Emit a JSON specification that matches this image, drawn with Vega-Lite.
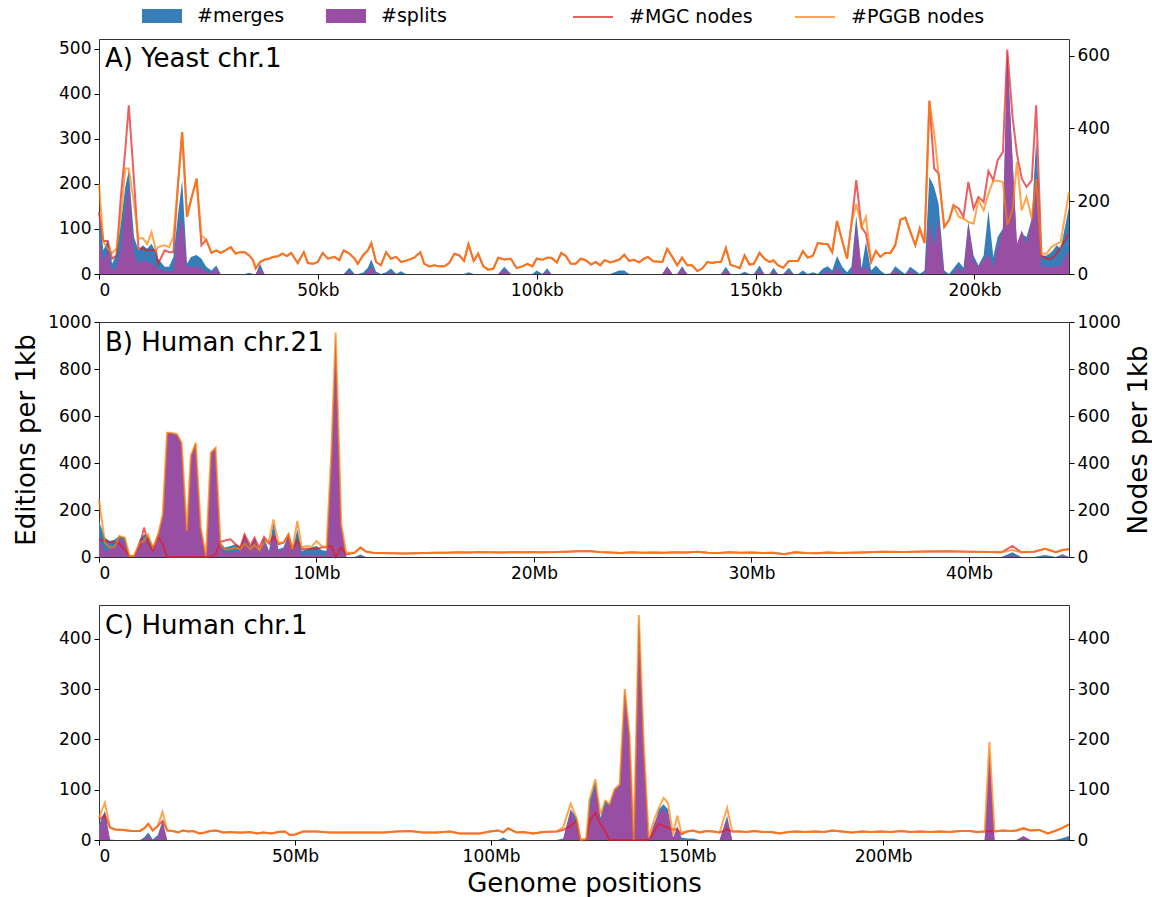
{
"$schema": "https://vega.github.io/schema/vega-lite/v6.json",
"background": "white",
"padding": {"left": 13, "top": 5, "right": 2, "bottom": 0},
"config": {
  "font": "DejaVu Sans",
  "view": {"stroke": "#333", "strokeWidth": 1},
  "axis": {"labelFont": "DejaVu Sans", "labelFontSize": 17, "labelColor": "black", "tickColor": "black", "tickSize": 5, "domain": false, "grid": false, "titleFont": "DejaVu Sans", "titleFontSize": 26, "titleFontWeight": "normal", "titleColor": "black", "labelPadding": 3, "format": "d"},
  "legend": {"labelFont": "DejaVu Sans", "labelFontSize": 19, "labelColor": "black", "padding": 0},
  "title": {"font": "DejaVu Sans", "fontSize": 26, "fontWeight": "normal", "color": "black", "anchor": "start", "frame": "group"}
},
"bounds": "flush",
"spacing": 48,
"resolve": {"scale": {"x": "independent", "y": "independent", "fill": "independent", "stroke": "independent"}, "legend": {"fill": "independent", "stroke": "independent"}},
"datasets": {
"A": [
{"pos":0,"merges":141,"splits":82,"mgc":170,"pggb":248},
{"pos":1,"merges":53,"splits":30,"mgc":91,"pggb":88},
{"pos":2,"merges":75,"splits":53,"mgc":91,"pggb":70},
{"pos":3,"merges":23,"splits":8,"mgc":42,"pggb":58},
{"pos":4,"merges":45,"splits":16,"mgc":51,"pggb":70},
{"pos":5,"merges":112,"splits":53,"mgc":212,"pggb":157},
{"pos":6,"merges":193,"splits":141,"mgc":340,"pggb":290},
{"pos":6.8,"merges":230,"splits":200,"mgc":464,"pggb":290},
{"pos":8,"merges":82,"splits":45,"mgc":258,"pggb":193},
{"pos":9,"merges":53,"splits":23,"mgc":70,"pggb":97},
{"pos":10,"merges":64,"splits":30,"mgc":70,"pggb":99},
{"pos":11,"merges":56,"splits":27,"mgc":65,"pggb":82},
{"pos":12,"merges":67,"splits":23,"mgc":65,"pggb":115},
{"pos":13,"merges":49,"splits":16,"mgc":65,"pggb":65},
{"pos":13.5,"merges":34,"splits":12,"mgc":28,"pggb":74},
{"pos":15,"merges":16,"splits":8,"mgc":65,"pggb":79},
{"pos":16,"merges":16,"splits":4,"mgc":60,"pggb":74},
{"pos":17,"merges":38,"splits":8,"mgc":60,"pggb":102},
{"pos":18,"merges":127,"splits":82,"mgc":239,"pggb":239},
{"pos":19,"merges":208,"splits":127,"mgc":390,"pggb":390},
{"pos":20.1,"merges":23,"splits":16,"mgc":157,"pggb":157},
{"pos":21,"merges":38,"splits":16,"mgc":203,"pggb":203},
{"pos":22.3,"merges":42,"splits":16,"mgc":262,"pggb":262},
{"pos":23.4,"merges":34,"splits":12,"mgc":79,"pggb":106},
{"pos":24.5,"merges":16,"splits":4,"mgc":94,"pggb":94},
{"pos":25.7,"merges":8,"splits":2,"mgc":58,"pggb":58},
{"pos":26.8,"merges":19,"splits":12,"mgc":65,"pggb":65},
{"pos":27.8,"merges":0,"splits":0,"mgc":58,"pggb":58},
{"pos":28.9,"merges":0,"splits":0,"mgc":65,"pggb":65},
{"pos":30.1,"merges":0,"splits":0,"mgc":74,"pggb":74},
{"pos":31.2,"merges":0,"splits":0,"mgc":56,"pggb":56},
{"pos":32.2,"merges":0,"splits":0,"mgc":60,"pggb":60},
{"pos":33.3,"merges":0,"splits":0,"mgc":60,"pggb":60},
{"pos":34.3,"merges":3,"splits":0,"mgc":51,"pggb":51},
{"pos":35.2,"merges":0,"splits":0,"mgc":38,"pggb":38},
{"pos":35.8,"merges":0,"splits":0,"mgc":15,"pggb":15},
{"pos":36.8,"merges":23,"splits":12,"mgc":33,"pggb":33},
{"pos":37.8,"merges":0,"splits":0,"mgc":39,"pggb":39},
{"pos":38.8,"merges":0,"splits":0,"mgc":42,"pggb":42},
{"pos":39.8,"merges":0,"splits":0,"mgc":47,"pggb":47},
{"pos":40.9,"merges":0,"splits":0,"mgc":49,"pggb":49},
{"pos":41.9,"merges":0,"splits":0,"mgc":56,"pggb":56},
{"pos":42.9,"merges":0,"splits":0,"mgc":49,"pggb":49},
{"pos":43.9,"merges":0,"splits":0,"mgc":58,"pggb":58},
{"pos":45.4,"merges":0,"splits":0,"mgc":30,"pggb":30},
{"pos":46.8,"merges":0,"splits":0,"mgc":60,"pggb":60},
{"pos":47.7,"merges":0,"splits":0,"mgc":30,"pggb":30},
{"pos":48.9,"merges":0,"splits":0,"mgc":28,"pggb":28},
{"pos":50,"merges":0,"splits":0,"mgc":33,"pggb":33},
{"pos":51.1,"merges":0,"splits":0,"mgc":58,"pggb":58},
{"pos":52.3,"merges":0,"splits":0,"mgc":42,"pggb":42},
{"pos":53.8,"merges":0,"splits":0,"mgc":47,"pggb":47},
{"pos":54.9,"merges":0,"splits":0,"mgc":38,"pggb":38},
{"pos":55.9,"merges":0,"splits":0,"mgc":65,"pggb":65},
{"pos":57.2,"merges":14,"splits":4,"mgc":56,"pggb":56},
{"pos":58.4,"merges":0,"splits":0,"mgc":42,"pggb":42},
{"pos":59.1,"merges":0,"splits":0,"mgc":28,"pggb":28},
{"pos":60.3,"merges":3,"splits":0,"mgc":51,"pggb":51},
{"pos":61.4,"merges":14,"splits":5,"mgc":65,"pggb":65},
{"pos":62.2,"merges":32,"splits":16,"mgc":85,"pggb":85},
{"pos":63.3,"merges":5,"splits":0,"mgc":33,"pggb":33},
{"pos":64.4,"merges":0,"splits":0,"mgc":24,"pggb":24},
{"pos":65.6,"merges":4,"splits":0,"mgc":60,"pggb":60},
{"pos":66.7,"merges":12,"splits":4,"mgc":42,"pggb":42},
{"pos":67.9,"merges":0,"splits":0,"mgc":47,"pggb":47},
{"pos":69,"merges":6,"splits":0,"mgc":33,"pggb":33},
{"pos":70.1,"merges":0,"splits":0,"mgc":36,"pggb":36},
{"pos":72,"merges":0,"splits":0,"mgc":45,"pggb":45},
{"pos":73.4,"merges":0,"splits":0,"mgc":60,"pggb":60},
{"pos":74.3,"merges":0,"splits":0,"mgc":28,"pggb":28},
{"pos":75.5,"merges":0,"splits":0,"mgc":21,"pggb":21},
{"pos":76.6,"merges":0,"splits":0,"mgc":24,"pggb":24},
{"pos":77.7,"merges":0,"splits":0,"mgc":21,"pggb":21},
{"pos":78.9,"merges":0,"splits":0,"mgc":21,"pggb":21},
{"pos":80,"merges":0,"splits":0,"mgc":30,"pggb":30},
{"pos":81.2,"merges":0,"splits":0,"mgc":56,"pggb":56},
{"pos":82.3,"merges":0,"splits":0,"mgc":51,"pggb":51},
{"pos":83.4,"merges":0,"splits":0,"mgc":36,"pggb":36},
{"pos":84.4,"merges":4,"splits":0,"mgc":82,"pggb":82},
{"pos":85.6,"merges":0,"splits":0,"mgc":36,"pggb":36},
{"pos":86.6,"merges":0,"splits":0,"mgc":56,"pggb":56},
{"pos":87.8,"merges":0,"splits":0,"mgc":21,"pggb":21},
{"pos":88.9,"merges":0,"splits":0,"mgc":12,"pggb":12},
{"pos":90.1,"merges":0,"splits":0,"mgc":15,"pggb":15},
{"pos":91.2,"merges":0,"splits":0,"mgc":45,"pggb":45},
{"pos":92.6,"merges":16,"splits":8,"mgc":40,"pggb":40},
{"pos":94.1,"merges":0,"splits":0,"mgc":42,"pggb":42},
{"pos":95.4,"merges":0,"splits":0,"mgc":16,"pggb":16},
{"pos":96.7,"merges":0,"splits":0,"mgc":21,"pggb":21},
{"pos":97.9,"merges":0,"splits":0,"mgc":28,"pggb":28},
{"pos":99,"merges":0,"splits":0,"mgc":21,"pggb":21},
{"pos":100,"merges":8,"splits":0,"mgc":42,"pggb":42},
{"pos":101.3,"merges":0,"splits":0,"mgc":39,"pggb":39},
{"pos":102.4,"merges":13,"splits":6,"mgc":45,"pggb":45},
{"pos":103.3,"merges":0,"splits":0,"mgc":45,"pggb":45},
{"pos":104.6,"merges":0,"splits":0,"mgc":32,"pggb":32},
{"pos":105.6,"merges":0,"splits":0,"mgc":58,"pggb":58},
{"pos":106.6,"merges":0,"splits":0,"mgc":50,"pggb":50},
{"pos":107.8,"merges":0,"splits":0,"mgc":28,"pggb":28},
{"pos":108.9,"merges":0,"splits":0,"mgc":28,"pggb":28},
{"pos":110.1,"merges":0,"splits":0,"mgc":42,"pggb":42},
{"pos":111.2,"merges":0,"splits":0,"mgc":38,"pggb":38},
{"pos":112.4,"merges":0,"splits":0,"mgc":26,"pggb":26},
{"pos":113.5,"merges":0,"splits":0,"mgc":33,"pggb":33},
{"pos":114.5,"merges":0,"splits":0,"mgc":24,"pggb":24},
{"pos":115.5,"merges":0,"splits":0,"mgc":38,"pggb":38},
{"pos":116.8,"merges":0,"splits":0,"mgc":32,"pggb":32},
{"pos":118.8,"merges":8,"splits":0,"mgc":39,"pggb":39},
{"pos":120,"merges":8,"splits":0,"mgc":53,"pggb":53},
{"pos":121.1,"merges":0,"splits":0,"mgc":36,"pggb":36},
{"pos":122.2,"merges":0,"splits":0,"mgc":39,"pggb":39},
{"pos":123.4,"merges":0,"splits":0,"mgc":32,"pggb":32},
{"pos":124.5,"merges":0,"splits":0,"mgc":42,"pggb":42},
{"pos":125.4,"merges":0,"splits":0,"mgc":47,"pggb":47},
{"pos":126.6,"merges":0,"splits":0,"mgc":35,"pggb":35},
{"pos":128.7,"merges":0,"splits":0,"mgc":33,"pggb":33},
{"pos":129.8,"merges":17,"splits":16,"mgc":69,"pggb":69},
{"pos":131,"merges":0,"splits":0,"mgc":47,"pggb":47},
{"pos":132.1,"merges":0,"splits":0,"mgc":24,"pggb":24},
{"pos":133.2,"merges":17,"splits":12,"mgc":45,"pggb":45},
{"pos":134.4,"merges":0,"splits":0,"mgc":24,"pggb":24},
{"pos":135.5,"merges":0,"splits":0,"mgc":24,"pggb":24},
{"pos":136.7,"merges":0,"splits":0,"mgc":8,"pggb":8},
{"pos":137.8,"merges":0,"splits":0,"mgc":15,"pggb":15},
{"pos":139,"merges":0,"splits":0,"mgc":33,"pggb":33},
{"pos":140.1,"merges":0,"splits":0,"mgc":30,"pggb":30},
{"pos":141.2,"merges":0,"splits":0,"mgc":33,"pggb":33},
{"pos":142.1,"merges":0,"splits":0,"mgc":33,"pggb":33},
{"pos":143.2,"merges":16,"splits":8,"mgc":71,"pggb":71},
{"pos":144.3,"merges":0,"splits":0,"mgc":25,"pggb":25},
{"pos":145.4,"merges":0,"splits":0,"mgc":21,"pggb":21},
{"pos":146.4,"merges":0,"splits":0,"mgc":16,"pggb":16},
{"pos":147.5,"merges":5,"splits":0,"mgc":51,"pggb":51},
{"pos":148.6,"merges":0,"splits":0,"mgc":26,"pggb":26},
{"pos":149.6,"merges":0,"splits":0,"mgc":28,"pggb":28},
{"pos":150.9,"merges":19,"splits":8,"mgc":58,"pggb":58},
{"pos":152,"merges":0,"splits":0,"mgc":42,"pggb":42},
{"pos":153.2,"merges":0,"splits":0,"mgc":33,"pggb":33},
{"pos":154.1,"merges":14,"splits":5,"mgc":36,"pggb":39},
{"pos":155.1,"merges":0,"splits":0,"mgc":24,"pggb":24},
{"pos":156.3,"merges":0,"splits":0,"mgc":17,"pggb":17},
{"pos":157.6,"merges":14,"splits":5,"mgc":36,"pggb":36},
{"pos":158.7,"merges":0,"splits":0,"mgc":36,"pggb":36},
{"pos":159.7,"merges":0,"splits":0,"mgc":36,"pggb":36},
{"pos":160.8,"merges":8,"splits":0,"mgc":63,"pggb":63},
{"pos":161.9,"merges":0,"splits":0,"mgc":45,"pggb":45},
{"pos":163.1,"merges":4,"splits":0,"mgc":50,"pggb":50},
{"pos":164.2,"merges":0,"splits":0,"mgc":85,"pggb":85},
{"pos":165.4,"merges":12,"splits":0,"mgc":83,"pggb":83},
{"pos":166.5,"merges":17,"splits":8,"mgc":82,"pggb":82},
{"pos":167.5,"merges":8,"splits":0,"mgc":60,"pggb":60},
{"pos":168.6,"merges":40,"splits":16,"mgc":146,"pggb":146},
{"pos":169.8,"merges":16,"splits":0,"mgc":91,"pggb":91},
{"pos":170.9,"merges":4,"splits":0,"mgc":42,"pggb":42},
{"pos":171.9,"merges":16,"splits":0,"mgc":138,"pggb":138},
{"pos":173,"merges":130,"splits":112,"mgc":258,"pggb":193},
{"pos":174.2,"merges":12,"splits":8,"mgc":129,"pggb":129},
{"pos":175.2,"merges":71,"splits":16,"mgc":111,"pggb":157},
{"pos":176.4,"merges":8,"splits":0,"mgc":33,"pggb":33},
{"pos":177.5,"merges":19,"splits":0,"mgc":63,"pggb":63},
{"pos":178.5,"merges":8,"splits":0,"mgc":47,"pggb":47},
{"pos":179.6,"merges":0,"splits":0,"mgc":58,"pggb":58},
{"pos":180.8,"merges":1,"splits":0,"mgc":58,"pggb":58},
{"pos":181.9,"merges":17,"splits":8,"mgc":79,"pggb":79},
{"pos":183.1,"merges":8,"splits":0,"mgc":149,"pggb":149},
{"pos":184.2,"merges":0,"splits":0,"mgc":155,"pggb":155},
{"pos":185.3,"merges":16,"splits":8,"mgc":118,"pggb":118},
{"pos":186.5,"merges":8,"splits":0,"mgc":79,"pggb":79},
{"pos":187.5,"merges":0,"splits":0,"mgc":125,"pggb":125},
{"pos":188.6,"merges":8,"splits":0,"mgc":85,"pggb":85},
{"pos":189.7,"merges":216,"splits":116,"mgc":476,"pggb":476},
{"pos":190.8,"merges":193,"splits":60,"mgc":290,"pggb":386},
{"pos":191.8,"merges":156,"splits":127,"mgc":276,"pggb":276},
{"pos":193.1,"merges":8,"splits":0,"mgc":129,"pggb":129},
{"pos":194.2,"merges":0,"splits":0,"mgc":148,"pggb":148},
{"pos":195.2,"merges":12,"splits":0,"mgc":189,"pggb":189},
{"pos":196.4,"merges":27,"splits":16,"mgc":180,"pggb":157},
{"pos":197.5,"merges":14,"splits":0,"mgc":157,"pggb":152},
{"pos":198.6,"merges":116,"splits":112,"mgc":253,"pggb":143},
{"pos":199.8,"merges":41,"splits":30,"mgc":180,"pggb":138},
{"pos":200.9,"merges":19,"splits":16,"mgc":212,"pggb":204},
{"pos":202.1,"merges":41,"splits":30,"mgc":198,"pggb":175},
{"pos":203.2,"merges":141,"splits":45,"mgc":283,"pggb":221},
{"pos":204.3,"merges":38,"splits":16,"mgc":258,"pggb":256},
{"pos":205.3,"merges":82,"splits":60,"mgc":313,"pggb":256},
{"pos":206.5,"merges":101,"splits":101,"mgc":335,"pggb":253},
{"pos":207.5,"merges":495,"splits":485,"mgc":617,"pggb":134},
{"pos":208.7,"merges":260,"splits":250,"mgc":432,"pggb":175},
{"pos":209.7,"merges":64,"splits":67,"mgc":331,"pggb":308},
{"pos":210.8,"merges":90,"splits":97,"mgc":262,"pggb":175},
{"pos":211.9,"merges":82,"splits":67,"mgc":239,"pggb":212},
{"pos":213.1,"merges":123,"splits":123,"mgc":258,"pggb":152},
{"pos":214.1,"merges":300,"splits":215,"mgc":464,"pggb":262},
{"pos":215.3,"merges":40,"splits":15,"mgc":51,"pggb":56},
{"pos":216.5,"merges":41,"splits":16,"mgc":42,"pggb":56},
{"pos":217.6,"merges":49,"splits":16,"mgc":42,"pggb":74},
{"pos":218.8,"merges":64,"splits":16,"mgc":56,"pggb":83},
{"pos":219.7,"merges":56,"splits":19,"mgc":74,"pggb":88},
{"pos":221.6,"merges":150,"splits":53,"mgc":110,"pggb":225}
],
"B": [
{"pos":0,"merges":153,"splits":82,"mgc":75,"pggb":245},
{"pos":0.27,"merges":82,"splits":26,"mgc":68,"pggb":61},
{"pos":0.5,"merges":68,"splits":33,"mgc":64,"pggb":40},
{"pos":0.73,"merges":75,"splits":40,"mgc":61,"pggb":43},
{"pos":0.93,"merges":89,"splits":82,"mgc":57,"pggb":89},
{"pos":1.19,"merges":82,"splits":61,"mgc":30,"pggb":82},
{"pos":1.41,"merges":0,"splits":0,"mgc":4,"pggb":4},
{"pos":1.61,"merges":0,"splits":0,"mgc":4,"pggb":4},
{"pos":1.87,"merges":75,"splits":61,"mgc":47,"pggb":61},
{"pos":2.07,"merges":96,"splits":75,"mgc":125,"pggb":68},
{"pos":2.25,"merges":89,"splits":70,"mgc":61,"pggb":96},
{"pos":2.48,"merges":47,"splits":26,"mgc":26,"pggb":40},
{"pos":2.7,"merges":60,"splits":89,"mgc":89,"pggb":89},
{"pos":2.93,"merges":60,"splits":181,"mgc":54,"pggb":181},
{"pos":3.13,"merges":20,"splits":529,"mgc":0,"pggb":529},
{"pos":3.31,"merges":20,"splits":529,"mgc":0,"pggb":529},
{"pos":3.59,"merges":20,"splits":522,"mgc":0,"pggb":522},
{"pos":3.8,"merges":20,"splits":486,"mgc":0,"pggb":486},
{"pos":4.04,"merges":20,"splits":111,"mgc":0,"pggb":111},
{"pos":4.22,"merges":20,"splits":430,"mgc":0,"pggb":430},
{"pos":4.45,"merges":20,"splits":486,"mgc":0,"pggb":486},
{"pos":4.68,"merges":20,"splits":125,"mgc":0,"pggb":125},
{"pos":4.92,"merges":0,"splits":4,"mgc":0,"pggb":4},
{"pos":5.14,"merges":20,"splits":444,"mgc":0,"pggb":444},
{"pos":5.36,"merges":20,"splits":465,"mgc":11,"pggb":465},
{"pos":5.59,"merges":60,"splits":54,"mgc":65,"pggb":54},
{"pos":5.79,"merges":40,"splits":18,"mgc":70,"pggb":33},
{"pos":6.05,"merges":47,"splits":18,"mgc":75,"pggb":33},
{"pos":6.28,"merges":54,"splits":26,"mgc":54,"pggb":40},
{"pos":6.5,"merges":43,"splits":26,"mgc":40,"pggb":33},
{"pos":6.69,"merges":96,"splits":89,"mgc":96,"pggb":57},
{"pos":6.96,"merges":40,"splits":26,"mgc":47,"pggb":33},
{"pos":7.15,"merges":82,"splits":75,"mgc":82,"pggb":51},
{"pos":7.37,"merges":26,"splits":18,"mgc":40,"pggb":28},
{"pos":7.59,"merges":82,"splits":68,"mgc":85,"pggb":61},
{"pos":7.82,"merges":26,"splits":18,"mgc":57,"pggb":68},
{"pos":8.02,"merges":146,"splits":96,"mgc":89,"pggb":160},
{"pos":8.25,"merges":33,"splits":26,"mgc":54,"pggb":61},
{"pos":8.48,"merges":40,"splits":33,"mgc":61,"pggb":61},
{"pos":8.71,"merges":96,"splits":89,"mgc":96,"pggb":96},
{"pos":8.89,"merges":26,"splits":15,"mgc":33,"pggb":33},
{"pos":9.12,"merges":118,"splits":68,"mgc":71,"pggb":153},
{"pos":9.32,"merges":26,"splits":5,"mgc":33,"pggb":40},
{"pos":9.54,"merges":33,"splits":8,"mgc":35,"pggb":47},
{"pos":9.77,"merges":40,"splits":10,"mgc":35,"pggb":43},
{"pos":10,"merges":47,"splits":10,"mgc":35,"pggb":68},
{"pos":10.23,"merges":30,"splits":8,"mgc":40,"pggb":47},
{"pos":10.46,"merges":26,"splits":8,"mgc":43,"pggb":40},
{"pos":10.68,"merges":410,"splits":437,"mgc":47,"pggb":437},
{"pos":10.88,"merges":20,"splits":948,"mgc":0,"pggb":955},
{"pos":11.14,"merges":100,"splits":139,"mgc":40,"pggb":139},
{"pos":11.37,"merges":0,"splits":0,"mgc":11,"pggb":18},
{"pos":11.75,"merges":0,"splits":0,"mgc":18,"pggb":18},
{"pos":12.02,"merges":11,"splits":3,"mgc":40,"pggb":40},
{"pos":12.28,"merges":0,"splits":0,"mgc":23,"pggb":23},
{"pos":12.58,"merges":0,"splits":0,"mgc":18,"pggb":18},
{"pos":13,"merges":0,"splits":0,"mgc":17,"pggb":17},
{"pos":13.5,"merges":0,"splits":0,"mgc":16,"pggb":16},
{"pos":14,"merges":0,"splits":0,"mgc":15,"pggb":15},
{"pos":14.5,"merges":0,"splits":0,"mgc":16,"pggb":16},
{"pos":15,"merges":0,"splits":0,"mgc":17,"pggb":17},
{"pos":15.5,"merges":0,"splits":0,"mgc":18,"pggb":18},
{"pos":16,"merges":0,"splits":0,"mgc":18,"pggb":18},
{"pos":16.5,"merges":0,"splits":0,"mgc":20,"pggb":20},
{"pos":17,"merges":0,"splits":0,"mgc":19,"pggb":19},
{"pos":17.5,"merges":0,"splits":0,"mgc":21,"pggb":21},
{"pos":18,"merges":0,"splits":0,"mgc":20,"pggb":20},
{"pos":18.5,"merges":0,"splits":0,"mgc":19,"pggb":19},
{"pos":19,"merges":0,"splits":0,"mgc":21,"pggb":21},
{"pos":19.5,"merges":0,"splits":0,"mgc":20,"pggb":20},
{"pos":20,"merges":0,"splits":0,"mgc":21,"pggb":21},
{"pos":20.5,"merges":0,"splits":0,"mgc":20,"pggb":20},
{"pos":21,"merges":0,"splits":0,"mgc":21,"pggb":21},
{"pos":21.5,"merges":0,"splits":0,"mgc":22,"pggb":22},
{"pos":22,"merges":0,"splits":0,"mgc":24,"pggb":24},
{"pos":22.5,"merges":0,"splits":0,"mgc":25,"pggb":25},
{"pos":23,"merges":0,"splits":0,"mgc":21,"pggb":21},
{"pos":23.5,"merges":0,"splits":0,"mgc":19,"pggb":19},
{"pos":24,"merges":0,"splits":0,"mgc":17,"pggb":17},
{"pos":24.5,"merges":0,"splits":0,"mgc":20,"pggb":20},
{"pos":25,"merges":0,"splits":0,"mgc":18,"pggb":18},
{"pos":25.5,"merges":0,"splits":0,"mgc":19,"pggb":19},
{"pos":26,"merges":0,"splits":0,"mgc":18,"pggb":18},
{"pos":26.5,"merges":0,"splits":0,"mgc":20,"pggb":20},
{"pos":27,"merges":0,"splits":0,"mgc":19,"pggb":19},
{"pos":27.5,"merges":0,"splits":0,"mgc":22,"pggb":22},
{"pos":28,"merges":0,"splits":0,"mgc":18,"pggb":18},
{"pos":28.5,"merges":0,"splits":0,"mgc":17,"pggb":17},
{"pos":29,"merges":0,"splits":0,"mgc":20,"pggb":20},
{"pos":29.5,"merges":0,"splits":0,"mgc":18,"pggb":18},
{"pos":30,"merges":0,"splits":0,"mgc":19,"pggb":19},
{"pos":30.5,"merges":0,"splits":0,"mgc":17,"pggb":17},
{"pos":31,"merges":0,"splits":0,"mgc":18,"pggb":18},
{"pos":31.5,"merges":0,"splits":0,"mgc":12,"pggb":12},
{"pos":32,"merges":0,"splits":0,"mgc":20,"pggb":20},
{"pos":32.5,"merges":0,"splits":0,"mgc":17,"pggb":17},
{"pos":33,"merges":0,"splits":0,"mgc":16,"pggb":16},
{"pos":33.5,"merges":0,"splits":0,"mgc":19,"pggb":19},
{"pos":34,"merges":0,"splits":0,"mgc":17,"pggb":17},
{"pos":35,"merges":0,"splits":0,"mgc":19,"pggb":19},
{"pos":36,"merges":0,"splits":0,"mgc":22,"pggb":22},
{"pos":37,"merges":0,"splits":0,"mgc":21,"pggb":21},
{"pos":38,"merges":0,"splits":0,"mgc":23,"pggb":23},
{"pos":39,"merges":0,"splits":0,"mgc":24,"pggb":24},
{"pos":40,"merges":0,"splits":0,"mgc":22,"pggb":22},
{"pos":41,"merges":0,"splits":0,"mgc":21,"pggb":21},
{"pos":41.5,"merges":0,"splits":0,"mgc":20,"pggb":20},
{"pos":42,"merges":20,"splits":5,"mgc":47,"pggb":30},
{"pos":42.4,"merges":0,"splits":0,"mgc":20,"pggb":20},
{"pos":43,"merges":0,"splits":0,"mgc":22,"pggb":22},
{"pos":43.5,"merges":8,"splits":0,"mgc":35,"pggb":35},
{"pos":44,"merges":0,"splits":0,"mgc":20,"pggb":20},
{"pos":44.3,"merges":12,"splits":5,"mgc":30,"pggb":30},
{"pos":44.6,"merges":0,"splits":0,"mgc":33,"pggb":33}
],
"C": [
{"pos":0,"merges":30,"splits":25,"mgc":40,"pggb":44},
{"pos":1.5,"merges":58,"splits":50,"mgc":50,"pggb":74},
{"pos":2.8,"merges":1,"splits":0,"mgc":25,"pggb":25},
{"pos":4.1,"merges":0,"splits":0,"mgc":21,"pggb":21},
{"pos":6.2,"merges":0,"splits":0,"mgc":20,"pggb":20},
{"pos":8.3,"merges":0,"splits":0,"mgc":18,"pggb":18},
{"pos":10.5,"merges":0,"splits":0,"mgc":18,"pggb":18},
{"pos":11.5,"merges":5,"splits":2,"mgc":23,"pggb":23},
{"pos":12.6,"merges":15,"splits":8,"mgc":32,"pggb":32},
{"pos":13.7,"merges":1,"splits":0,"mgc":19,"pggb":19},
{"pos":15,"merges":10,"splits":5,"mgc":28,"pggb":28},
{"pos":16.2,"merges":38,"splits":34,"mgc":38,"pggb":56},
{"pos":17.4,"merges":0,"splits":0,"mgc":19,"pggb":19},
{"pos":18.9,"merges":0,"splits":0,"mgc":18,"pggb":18},
{"pos":20.2,"merges":0,"splits":0,"mgc":15,"pggb":15},
{"pos":21.5,"merges":0,"splits":0,"mgc":19,"pggb":19},
{"pos":22.8,"merges":0,"splits":0,"mgc":17,"pggb":17},
{"pos":24,"merges":0,"splits":0,"mgc":18,"pggb":18},
{"pos":25.7,"merges":0,"splits":0,"mgc":13,"pggb":13},
{"pos":27,"merges":0,"splits":0,"mgc":15,"pggb":15},
{"pos":28.3,"merges":0,"splits":0,"mgc":18,"pggb":18},
{"pos":30,"merges":0,"splits":0,"mgc":19,"pggb":19},
{"pos":31.7,"merges":0,"splits":0,"mgc":15,"pggb":15},
{"pos":33.4,"merges":0,"splits":0,"mgc":16,"pggb":16},
{"pos":35.1,"merges":0,"splits":0,"mgc":15,"pggb":15},
{"pos":36.8,"merges":0,"splits":0,"mgc":15,"pggb":15},
{"pos":38.5,"merges":0,"splits":0,"mgc":16,"pggb":16},
{"pos":40.2,"merges":0,"splits":0,"mgc":13,"pggb":13},
{"pos":41.9,"merges":0,"splits":0,"mgc":15,"pggb":15},
{"pos":44,"merges":0,"splits":0,"mgc":13,"pggb":13},
{"pos":45.7,"merges":0,"splits":0,"mgc":16,"pggb":16},
{"pos":47.4,"merges":0,"splits":0,"mgc":17,"pggb":17},
{"pos":48.7,"merges":0,"splits":0,"mgc":10,"pggb":10},
{"pos":50,"merges":0,"splits":0,"mgc":11,"pggb":11},
{"pos":52.1,"merges":0,"splits":0,"mgc":17,"pggb":17},
{"pos":55.5,"merges":0,"splits":0,"mgc":17,"pggb":17},
{"pos":58.9,"merges":0,"splits":0,"mgc":15,"pggb":15},
{"pos":62.3,"merges":0,"splits":0,"mgc":15,"pggb":15},
{"pos":65.7,"merges":0,"splits":0,"mgc":15,"pggb":15},
{"pos":69.1,"merges":0,"splits":0,"mgc":15,"pggb":15},
{"pos":72.5,"merges":0,"splits":0,"mgc":15,"pggb":15},
{"pos":75.9,"merges":0,"splits":0,"mgc":17,"pggb":17},
{"pos":79.3,"merges":0,"splits":0,"mgc":18,"pggb":18},
{"pos":82.7,"merges":0,"splits":0,"mgc":15,"pggb":15},
{"pos":86.1,"merges":0,"splits":0,"mgc":15,"pggb":15},
{"pos":89.5,"merges":0,"splits":0,"mgc":17,"pggb":17},
{"pos":92,"merges":0,"splits":0,"mgc":13,"pggb":13},
{"pos":94.6,"merges":0,"splits":0,"mgc":13,"pggb":13},
{"pos":97.1,"merges":0,"splits":0,"mgc":13,"pggb":13},
{"pos":99.7,"merges":0,"splits":0,"mgc":17,"pggb":17},
{"pos":101.8,"merges":0,"splits":0,"mgc":19,"pggb":19},
{"pos":103.1,"merges":5,"splits":0,"mgc":15,"pggb":15},
{"pos":104.3,"merges":0,"splits":0,"mgc":23,"pggb":23},
{"pos":106.5,"merges":0,"splits":0,"mgc":15,"pggb":15},
{"pos":108.2,"merges":0,"splits":0,"mgc":16,"pggb":16},
{"pos":110.7,"merges":0,"splits":0,"mgc":13,"pggb":13},
{"pos":113.3,"merges":0,"splits":0,"mgc":16,"pggb":16},
{"pos":116.7,"merges":0,"splits":0,"mgc":17,"pggb":17},
{"pos":118.4,"merges":3,"splits":0,"mgc":20,"pggb":25},
{"pos":120.3,"merges":61,"splits":58,"mgc":28,"pggb":72},
{"pos":121.8,"merges":44,"splits":31,"mgc":38,"pggb":44},
{"pos":122.8,"merges":0,"splits":0,"mgc":0,"pggb":0},
{"pos":124.3,"merges":0,"splits":0,"mgc":0,"pggb":3},
{"pos":125.1,"merges":78,"splits":60,"mgc":38,"pggb":80},
{"pos":126.6,"merges":117,"splits":107,"mgc":54,"pggb":121},
{"pos":127.9,"merges":44,"splits":38,"mgc":31,"pggb":51},
{"pos":129.1,"merges":79,"splits":68,"mgc":18,"pggb":78},
{"pos":130.2,"merges":71,"splits":70,"mgc":0,"pggb":71},
{"pos":131.5,"merges":101,"splits":101,"mgc":0,"pggb":101},
{"pos":132.8,"merges":109,"splits":109,"mgc":0,"pggb":111},
{"pos":134.1,"merges":298,"splits":298,"mgc":0,"pggb":300},
{"pos":135.3,"merges":207,"splits":207,"mgc":0,"pggb":210},
{"pos":136.4,"merges":0,"splits":0,"mgc":0,"pggb":0},
{"pos":137.7,"merges":442,"splits":442,"mgc":0,"pggb":447},
{"pos":138.9,"merges":190,"splits":190,"mgc":0,"pggb":197},
{"pos":140.2,"merges":0,"splits":0,"mgc":0,"pggb":5},
{"pos":141.5,"merges":25,"splits":31,"mgc":15,"pggb":38},
{"pos":142.8,"merges":61,"splits":54,"mgc":32,"pggb":64},
{"pos":144,"merges":71,"splits":61,"mgc":28,"pggb":84},
{"pos":145.1,"merges":61,"splits":51,"mgc":24,"pggb":74},
{"pos":146.4,"merges":3,"splits":5,"mgc":21,"pggb":11},
{"pos":147.5,"merges":28,"splits":21,"mgc":21,"pggb":48},
{"pos":148.5,"merges":5,"splits":0,"mgc":11,"pggb":15},
{"pos":150,"merges":3,"splits":0,"mgc":17,"pggb":17},
{"pos":151.5,"merges":3,"splits":0,"mgc":19,"pggb":19},
{"pos":153.2,"merges":0,"splits":0,"mgc":15,"pggb":15},
{"pos":154.9,"merges":0,"splits":0,"mgc":18,"pggb":18},
{"pos":156.6,"merges":0,"splits":0,"mgc":17,"pggb":17},
{"pos":158.3,"merges":0,"splits":0,"mgc":15,"pggb":15},
{"pos":160.2,"merges":48,"splits":41,"mgc":21,"pggb":64},
{"pos":161.5,"merges":0,"splits":0,"mgc":17,"pggb":17},
{"pos":163.4,"merges":0,"splits":0,"mgc":17,"pggb":17},
{"pos":165.1,"merges":0,"splits":0,"mgc":16,"pggb":16},
{"pos":167.2,"merges":0,"splits":0,"mgc":18,"pggb":18},
{"pos":169.3,"merges":0,"splits":0,"mgc":16,"pggb":16},
{"pos":171.5,"merges":0,"splits":0,"mgc":16,"pggb":16},
{"pos":173.6,"merges":0,"splits":0,"mgc":13,"pggb":13},
{"pos":175.7,"merges":0,"splits":0,"mgc":16,"pggb":16},
{"pos":177.8,"merges":0,"splits":0,"mgc":17,"pggb":17},
{"pos":180,"merges":0,"splits":0,"mgc":16,"pggb":16},
{"pos":182.5,"merges":0,"splits":0,"mgc":17,"pggb":17},
{"pos":185,"merges":0,"splits":0,"mgc":16,"pggb":16},
{"pos":187,"merges":0,"splits":0,"mgc":19,"pggb":19},
{"pos":189.5,"merges":0,"splits":0,"mgc":17,"pggb":17},
{"pos":192,"merges":0,"splits":0,"mgc":15,"pggb":15},
{"pos":194.5,"merges":0,"splits":0,"mgc":17,"pggb":17},
{"pos":197,"merges":0,"splits":0,"mgc":16,"pggb":16},
{"pos":199.5,"merges":0,"splits":0,"mgc":17,"pggb":17},
{"pos":202,"merges":0,"splits":0,"mgc":16,"pggb":16},
{"pos":204.5,"merges":0,"splits":0,"mgc":18,"pggb":18},
{"pos":207,"merges":0,"splits":0,"mgc":16,"pggb":16},
{"pos":209.5,"merges":0,"splits":0,"mgc":17,"pggb":17},
{"pos":212,"merges":0,"splits":0,"mgc":16,"pggb":16},
{"pos":214.5,"merges":0,"splits":0,"mgc":17,"pggb":17},
{"pos":217,"merges":0,"splits":0,"mgc":16,"pggb":16},
{"pos":219.5,"merges":0,"splits":0,"mgc":18,"pggb":18},
{"pos":222,"merges":0,"splits":0,"mgc":18,"pggb":18},
{"pos":224,"merges":0,"splits":0,"mgc":16,"pggb":16},
{"pos":225.9,"merges":0,"splits":0,"mgc":17,"pggb":17},
{"pos":227.1,"merges":150,"splits":180,"mgc":18,"pggb":195},
{"pos":228.4,"merges":0,"splits":0,"mgc":17,"pggb":17},
{"pos":230.4,"merges":0,"splits":0,"mgc":19,"pggb":19},
{"pos":232.5,"merges":0,"splits":0,"mgc":18,"pggb":18},
{"pos":234,"merges":0,"splits":0,"mgc":19,"pggb":19},
{"pos":235.8,"merges":6,"splits":8,"mgc":23,"pggb":24},
{"pos":237.5,"merges":0,"splits":0,"mgc":19,"pggb":19},
{"pos":239.8,"merges":0,"splits":0,"mgc":20,"pggb":20},
{"pos":242,"merges":0,"splits":0,"mgc":13,"pggb":13},
{"pos":243.8,"merges":0,"splits":0,"mgc":18,"pggb":18},
{"pos":245.5,"merges":3,"splits":0,"mgc":23,"pggb":23},
{"pos":247.4,"merges":8,"splits":0,"mgc":31,"pggb":31}
]
},
"vconcat": [
{
  "width": 970, "height": 235,
  "data": {"name": "A"},
  "title": {"text": "A) Yeast chr.1", "offset": -30, "dx": 6, "dy": 57, "baseline": "alphabetic"},
  "encoding": {"x": {"field": "pos", "type": "quantitative", "scale": {"domain": [0, 221.6], "nice": false, "zero": false}, "axis": {"values": [0, 50, 100, 150, 200], "labelExpr": "datum.value == 0 ? '0' : datum.value + 'kb'", "title": null}}},
  "layer": [
    {"layer": [
      {"mark": {"type": "area", "interpolate": "linear"}, "encoding": {"y": {"field": "merges", "type": "quantitative", "scale": {"domain": [0, 522], "nice": false}, "axis": {"values": [0, 100, 200, 300, 400, 500], "title": null}}, "fill": {"datum": "#merges", "type": "nominal", "scale": {"domain": ["#merges", "#splits"], "range": ["#377eb8", "#984ea3"]}, "legend": {"orient": "none", "legendX": 53, "legendY": -33, "direction": "horizontal", "title": null, "symbolType": "M-2,-0.7H2V0.7H-2Z", "symbolSize": 400, "symbolStrokeWidth": 0, "labelOffset": 25, "columnPadding": 41}}}},
      {"mark": {"type": "area", "interpolate": "linear"}, "encoding": {"y": {"field": "splits", "type": "quantitative"}, "fill": {"datum": "#splits", "type": "nominal"}}}
    ]},
    {"layer": [
      {"mark": {"type": "line", "strokeWidth": 2, "opacity": 0.7}, "encoding": {"y": {"field": "mgc", "type": "quantitative", "scale": {"domain": [0, 646], "nice": false}, "axis": {"orient": "right", "values": [0, 200, 400, 600], "title": null}}, "stroke": {"datum": "#MGC nodes", "type": "nominal", "scale": {"domain": ["#MGC nodes", "#PGGB nodes"], "range": ["#e41a1c", "#ff7f00"]}, "legend": {"orient": "none", "legendX": 483, "legendY": -33, "direction": "horizontal", "title": null, "symbolType": "M-2,0H2", "symbolSize": 400, "symbolStrokeWidth": 2, "symbolOpacity": 0.7, "labelOffset": 25, "columnPadding": 38}}}},
      {"mark": {"type": "line", "strokeWidth": 2, "opacity": 0.7}, "encoding": {"y": {"field": "pggb", "type": "quantitative"}, "stroke": {"datum": "#PGGB nodes", "type": "nominal"}}}
    ]}
  ],
  "resolve": {"scale": {"y": "independent"}}
},
{
  "width": 970, "height": 235,
  "data": {"name": "B"},
  "title": {"text": "B) Human chr.21", "offset": -30, "dx": 6, "dy": 34, "baseline": "alphabetic"},
  "encoding": {"x": {"field": "pos", "type": "quantitative", "scale": {"domain": [0, 44.6], "nice": false, "zero": false}, "axis": {"values": [0, 10, 20, 30, 40], "labelExpr": "datum.value == 0 ? '0' : datum.value + 'Mb'", "title": null}}},
  "layer": [
    {"layer": [
      {"mark": {"type": "area", "interpolate": "linear"}, "encoding": {"y": {"field": "merges", "type": "quantitative", "scale": {"domain": [0, 1000], "nice": false}, "axis": {"values": [0, 200, 400, 600, 800, 1000], "title": "Editions per 1kb", "titlePadding": 8}}, "fill": {"datum": "#merges", "type": "nominal", "scale": {"domain": ["#merges", "#splits"], "range": ["#377eb8", "#984ea3"]}, "legend": null}}},
      {"mark": {"type": "area", "interpolate": "linear"}, "encoding": {"y": {"field": "splits", "type": "quantitative"}, "fill": {"datum": "#splits", "type": "nominal"}}}
    ]},
    {"layer": [
      {"mark": {"type": "line", "strokeWidth": 2, "opacity": 0.7}, "encoding": {"y": {"field": "mgc", "type": "quantitative", "scale": {"domain": [0, 1000], "nice": false}, "axis": {"orient": "right", "values": [0, 200, 400, 600, 800, 1000], "title": "Nodes per 1kb", "titleAngle": 270, "titleBaseline": "top", "titlePadding": 5}}, "stroke": {"datum": "#MGC nodes", "type": "nominal", "scale": {"domain": ["#MGC nodes", "#PGGB nodes"], "range": ["#e41a1c", "#ff7f00"]}, "legend": null}}},
      {"mark": {"type": "line", "strokeWidth": 2, "opacity": 0.7}, "encoding": {"y": {"field": "pggb", "type": "quantitative"}, "stroke": {"datum": "#PGGB nodes", "type": "nominal"}}}
    ]}
  ],
  "resolve": {"scale": {"y": "independent"}}
},
{
  "width": 970, "height": 235,
  "data": {"name": "C"},
  "title": {"text": "C) Human chr.1", "offset": -30, "dx": 6, "dy": 25, "baseline": "alphabetic"},
  "encoding": {"x": {"field": "pos", "type": "quantitative", "scale": {"domain": [0, 247.4], "nice": false, "zero": false}, "axis": {"values": [0, 50, 100, 150, 200], "labelExpr": "datum.value == 0 ? '0' : datum.value + 'Mb'", "title": "Genome positions", "titlePadding": 6}}},
  "layer": [
    {"layer": [
      {"mark": {"type": "area", "interpolate": "linear"}, "encoding": {"y": {"field": "merges", "type": "quantitative", "scale": {"domain": [0, 467], "nice": false}, "axis": {"values": [0, 100, 200, 300, 400], "title": null}}, "fill": {"datum": "#merges", "type": "nominal", "scale": {"domain": ["#merges", "#splits"], "range": ["#377eb8", "#984ea3"]}, "legend": null}}},
      {"mark": {"type": "area", "interpolate": "linear"}, "encoding": {"y": {"field": "splits", "type": "quantitative"}, "fill": {"datum": "#splits", "type": "nominal"}}}
    ]},
    {"layer": [
      {"mark": {"type": "line", "strokeWidth": 2, "opacity": 0.7}, "encoding": {"y": {"field": "mgc", "type": "quantitative", "scale": {"domain": [0, 467], "nice": false}, "axis": {"orient": "right", "values": [0, 100, 200, 300, 400], "title": null}}, "stroke": {"datum": "#MGC nodes", "type": "nominal", "scale": {"domain": ["#MGC nodes", "#PGGB nodes"], "range": ["#e41a1c", "#ff7f00"]}, "legend": null}}},
      {"mark": {"type": "line", "strokeWidth": 2, "opacity": 0.7}, "encoding": {"y": {"field": "pggb", "type": "quantitative"}, "stroke": {"datum": "#PGGB nodes", "type": "nominal"}}}
    ]}
  ],
  "resolve": {"scale": {"y": "independent"}}
}
]
}
